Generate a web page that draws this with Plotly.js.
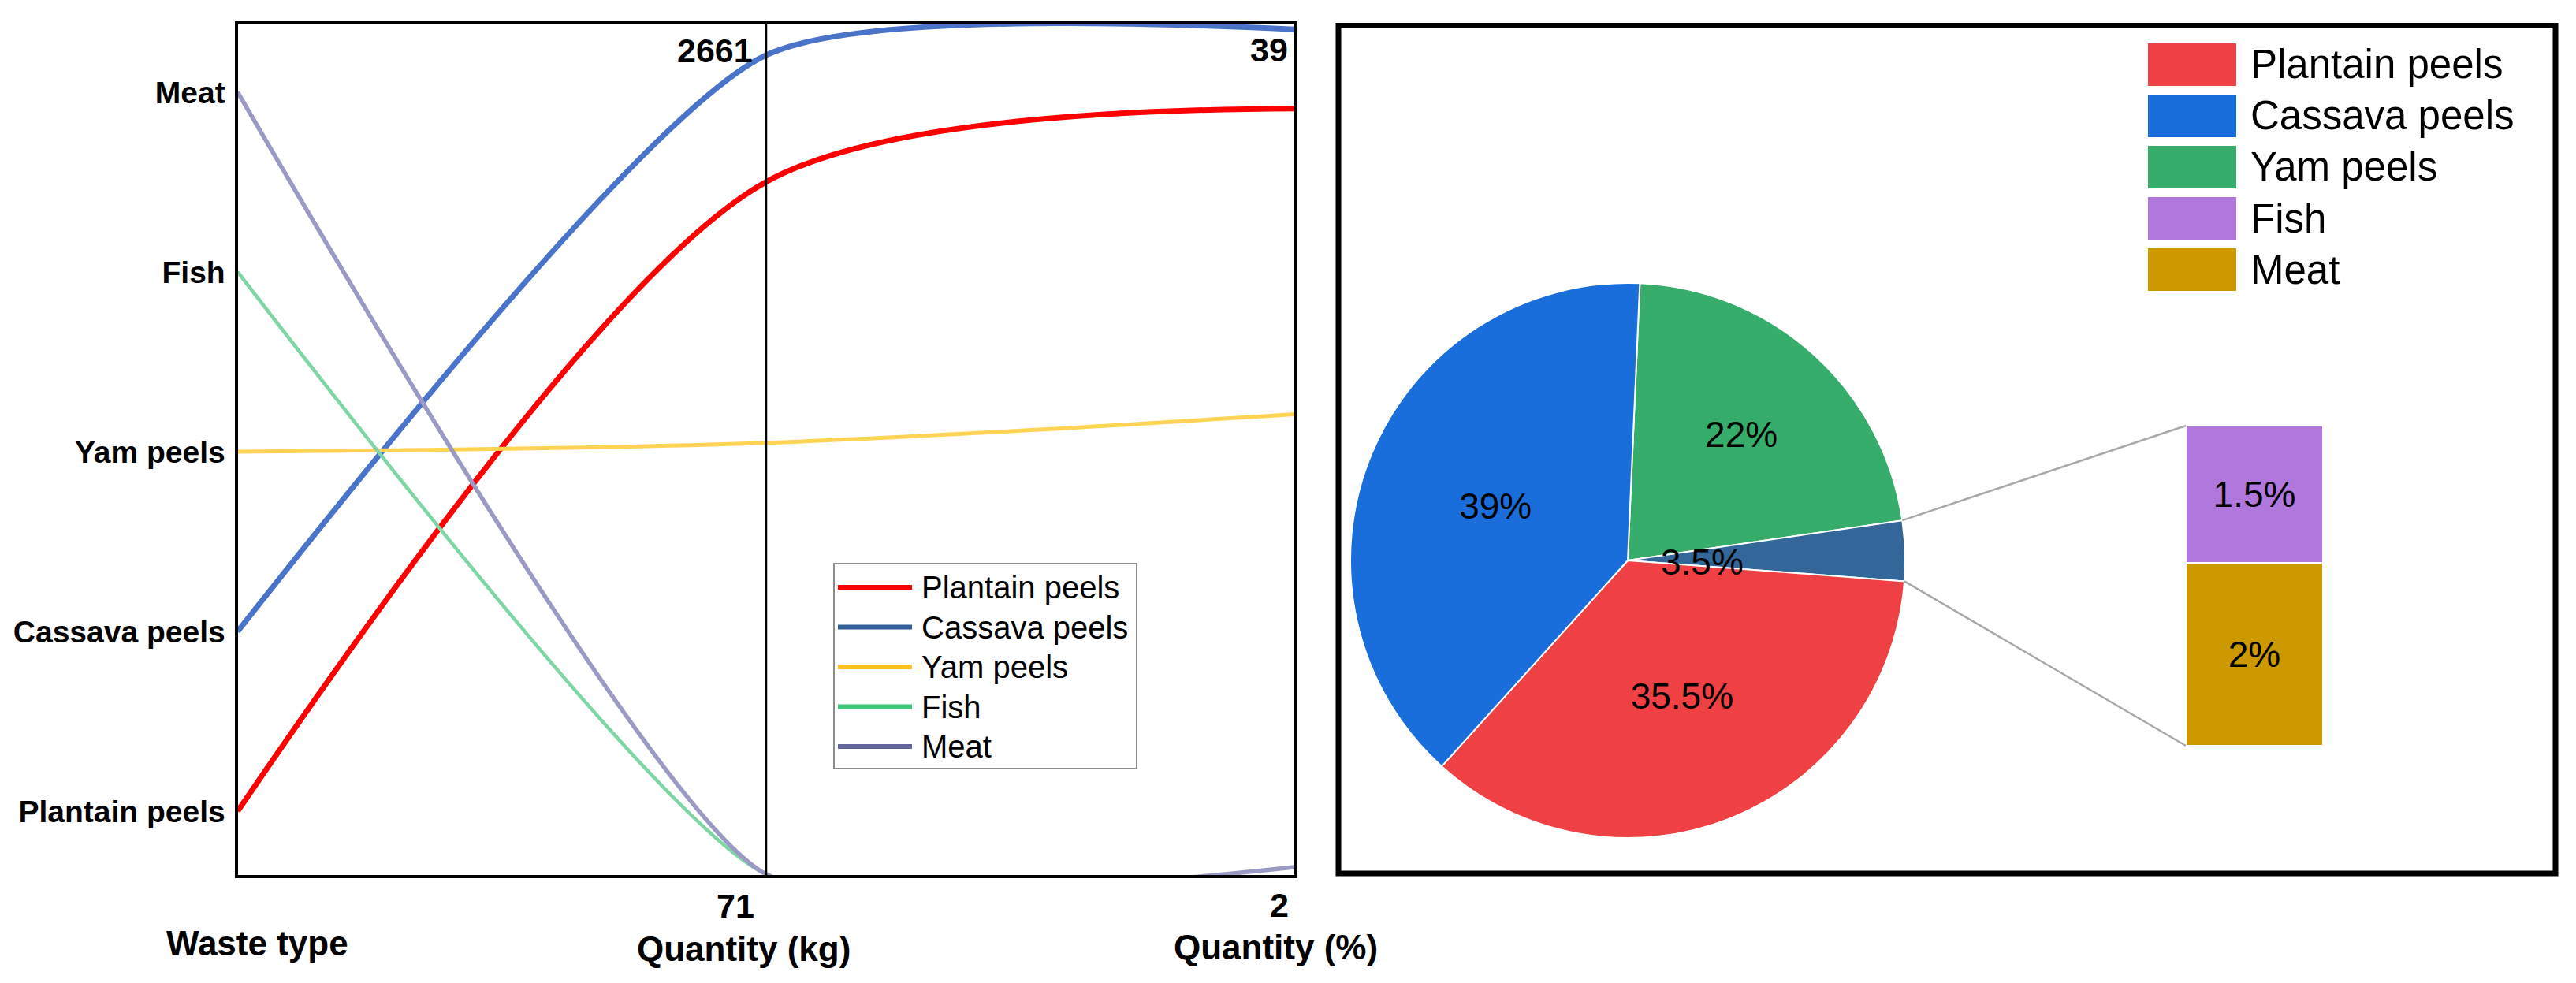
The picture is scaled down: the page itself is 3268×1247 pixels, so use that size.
<!DOCTYPE html>
<html><head><meta charset="utf-8">
<script src="https://cdn.plot.ly/plotly-3.0.1.min.js"></script>
<style>html,body{margin:0;padding:0;background:#fff}#chart{width:3268px;height:1247px}</style>
</head><body><div id="chart"></div>
<script>
// ---------- data ----------
const categories   = ['Plantain peels', 'Cassava peels', 'Yam peels', 'Fish', 'Meat'];
const quantityKg   = [2260, 2661, 1435, 71, 71];
const quantityPct  = [35.5, 39, 22, 1.5, 2];
const kgTickLabels  = ['71', '2661'];
const pctTickLabels = ['2', '39'];
const axisTitles   = ['Waste type', 'Quantity (kg)', 'Quantity (%)'];

// ---------- styles ----------
const lineColors       = ['#FF0000', '#4A74C9', '#FFD454', '#7DD6A3', '#9A9AC4'];
const lineWidths       = [7, 7, 5, 4.5, 5.5];
const lineSmoothing    = [0.8, 0.6, 1, 0.5, 0.5];
const legendLineColors = ['#FF0000', '#2F5F98', '#FFC21A', '#3DC97A', '#65659E'];
const pieCatColors     = ['#EF4143', '#1A6EDC', '#36AD6A', '#B077DD', '#CC9900'];
const otherColor       = '#336699';

const W = 3268, H = 1247;
const px = v => v / W;
const py = v => 1 - v / H;
const FONT = 'Liberation Sans, Arial, sans-serif';

// positions of the three parallel axes on the shared unit scale (category index units)
const kgMin = Math.min(...quantityKg), kgMax = Math.max(...quantityKg);
const pctMin = 2, pctMax = Math.max(...quantityPct);
const kgBottom = -0.35, kgTop = 4.206;
const pctBottom = -0.311, pctTop = 4.35;
const kgUnit  = v => kgBottom + (v - kgMin) / (kgMax - kgMin) * (kgTop - kgBottom);
const pctUnit = v => pctBottom + (v - pctMin) / (pctMax - pctMin) * (pctTop - pctBottom);

const traces = [];
categories.forEach((c, i) => {
  traces.push({
    type: 'scatter', mode: 'lines', name: c, showlegend: false, hoverinfo: 'skip',
    x: [0, 1, 2],
    y: [i, kgUnit(quantityKg[i]), pctUnit(quantityPct[i])],
    line: {shape: 'spline', smoothing: lineSmoothing[i], color: lineColors[i], width: lineWidths[i]},
    xaxis: 'x', yaxis: 'y'
  });
});

// ---------- pie ----------
const otherPct = quantityPct[3] + quantityPct[4];
const pieLabels = [categories[2], 'Fish + Meat', categories[0], categories[1]];
const pieValues = [quantityPct[2], otherPct, quantityPct[0], quantityPct[1]];
const pieColors = [pieCatColors[2], otherColor, pieCatColors[0], pieCatColors[1]];
const rotation = 2.5;
const pieCx = 2065, pieCy = 711, pieR = 352;
traces.push({
  type: 'pie', labels: pieLabels, values: pieValues, sort: false, direction: 'clockwise',
  rotation: rotation, showlegend: false, hoverinfo: 'none',
  marker: {colors: pieColors, line: {color: '#FFFFFF', width: 2}},
  text: pieValues.map((v, k) => k === 1 ? '' : v + '%'),
  textinfo: 'text', textposition: 'inside', insidetextorientation: 'horizontal',
  insidetextfont: {family: FONT, size: 46, color: '#000000'},
  domain: {x: [px(pieCx - pieR), px(pieCx + pieR)], y: [py(pieCy + pieR), py(pieCy - pieR)]}
});

// ---------- bar of pie ----------
[4, 3].forEach(i => {
  traces.push({
    type: 'bar', x: [0], y: [quantityPct[i]], width: [1], name: categories[i], showlegend: false,
    hoverinfo: 'none',
    marker: {color: pieCatColors[i], line: {color: '#FFFFFF', width: 2}},
    text: [quantityPct[i] + '%'], textposition: 'inside', insidetextanchor: 'middle', textangle: 0,
    textfont: {family: FONT, size: 46, color: '#000000'},
    xaxis: 'x2', yaxis: 'y2'
  });
});

// ---------- shapes & annotations ----------
const shapes = [];
const annotations = [];

// middle axis line
shapes.push({type: 'line', xref: 'x', yref: 'y domain', x0: 1, x1: 1, y0: 0, y1: 1,
  line: {color: '#000', width: 3}});

// axis value labels
const ann = (text, x, y, size, bold, anchor) => annotations.push({
  text: bold ? '<b>' + text + '</b>' : text, xref: 'paper', yref: 'paper', x: px(x), y: py(y),
  xanchor: anchor || 'center', yanchor: 'middle', showarrow: false,
  font: {family: FONT, size: size, color: '#000'}
});
ann(kgTickLabels[1], 907, 64, 43, true);
ann(pctTickLabels[1], 1610, 63, 43, true);
ann(kgTickLabels[0], 933, 1149, 43, true);
ann(pctTickLabels[0], 1623, 1148, 43, true);
ann(axisTitles[0], 326, 1196, 44, true);
ann(axisTitles[1], 943, 1203, 44, true);
ann(axisTitles[2], 1618, 1201, 44, true);

// left legend
shapes.push({type: 'rect', xref: 'paper', yref: 'paper', x0: px(1058), x1: px(1442), y0: py(975), y1: py(715),
  line: {color: '#8C8C8C', width: 2}, fillcolor: 'rgba(255,255,255,1)', layer: 'above'});
categories.forEach((c, i) => {
  const yc = 745 + 50.5 * i;
  shapes.push({type: 'line', xref: 'paper', yref: 'paper', x0: px(1063), x1: px(1157), y0: py(yc), y1: py(yc),
    line: {color: legendLineColors[i], width: 6}, layer: 'above'});
  ann(c, 1167, yc, 40, false, 'left');
});

// pie box
shapes.push({type: 'rect', xref: 'paper', yref: 'paper', x0: px(1698), x1: px(3242), y0: py(1108), y1: py(32.5),
  line: {color: '#000', width: 7}});

// pie legend
categories.forEach((c, i) => {
  const y0 = 55 + 65 * i;
  shapes.push({type: 'rect', xref: 'paper', yref: 'paper', x0: px(2725), x1: px(2837), y0: py(y0 + 54), y1: py(y0),
    line: {width: 0}, fillcolor: pieCatColors[i]});
  ann(c, 2853, y0 + 27, 51, false, 'left');
});

// connector lines from the "other" slice to the bar
const a0 = (rotation + 3.6 * pieValues[0]) * Math.PI / 180;
const a1 = a0 + 3.6 * otherPct * Math.PI / 180;
const barLeft = 2773, barTop = 540, barBottom = 946;
[[a0, barTop], [a1, barBottom]].forEach(([a, by]) => {
  shapes.push({type: 'line', xref: 'paper', yref: 'paper',
    x0: px(pieCx + pieR * Math.sin(a)), y0: py(pieCy - pieR * Math.cos(a)), x1: px(barLeft), y1: py(by),
    line: {color: '#A8A8A8', width: 2.5}});
});

// label for the small slice
ann(otherPct + '%', 2159, 713, 46, false);

const layout = {
  width: W, height: H, margin: {l: 0, r: 0, t: 0, b: 0},
  paper_bgcolor: '#fff', plot_bgcolor: 'rgba(0,0,0,0)', showlegend: false,
  barmode: 'stack', bargap: 0,
  xaxis: {domain: [px(301.5), px(1642)], range: [0, 2], showline: true, mirror: true, linewidth: 4,
    linecolor: '#000', showgrid: false, zeroline: false, showticklabels: false, ticks: '', fixedrange: true},
  yaxis: {domain: [py(1110), py(31)], range: [-0.355, 4.377], showline: true, mirror: true, linewidth: 4,
    linecolor: '#000', showgrid: false, zeroline: false, ticks: '',
    tickvals: categories.map((c, i) => i), ticktext: categories.map(c => '<b>' + c + '</b>'),
    tickfont: {family: FONT, size: 39, color: '#000'}, ticklabelstandoff: 4},
  xaxis2: {domain: [px(barLeft), px(2947)], range: [-0.5, 0.5], visible: false, anchor: 'y2'},
  yaxis2: {domain: [py(barBottom), py(barTop)], range: [0, otherPct], visible: false, anchor: 'x2'},
  shapes: shapes, annotations: annotations
};

Plotly.newPlot('chart', traces, layout, {displayModeBar: false, staticPlot: true});
</script></body></html>
